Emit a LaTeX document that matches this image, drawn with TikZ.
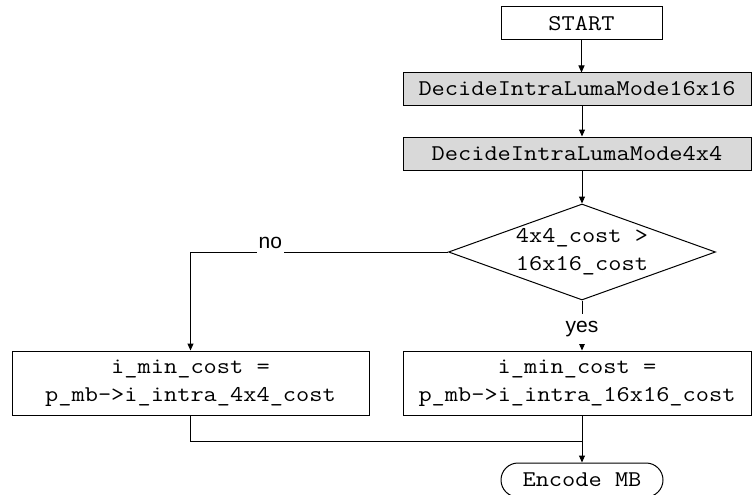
\documentclass[tikz,border=0pt]{standalone}
\usepackage{fontspec}
\newfontfamily\codefont{Latin Modern Mono}[FakeStretch=1.14]
\newfontfamily\labelfont{Liberation Sans}
\usetikzlibrary{arrows.meta,shapes.geometric}
\begin{document}
\begin{tikzpicture}[x=1pt,y=-1pt,
  every node/.style={inner sep=0pt},
  code/.style={font=\codefont\fontsize{22.5}{28}\selectfont},
  procbox/.style={code, draw, line width=1pt, align=center},
  callbox/.style={procbox, fill=black!15},
  decision/.style={draw, line width=1pt, diamond},
  terminal/.style={procbox, rounded corners=17pt},
  lbl/.style={font=\labelfont\fontsize{21}{25}\selectfont, fill=white,
              inner xsep=1.5pt, inner ysep=7pt},
  flow/.style={line width=1pt, -{Triangle[length=7pt,width=6pt]}},
  link/.style={line width=1pt}]
\useasboundingbox (0,0) rectangle (752,495);

% process chain
\node[procbox, minimum width=161pt, minimum height=33pt] (start) at (581.5,23.5) {START};
\node[callbox, minimum width=348pt, minimum height=32pt] (b16) at (577,89) {DecideIntraLumaMode16x16};
\node[callbox, minimum width=348pt, minimum height=33pt] (b4) at (577,153.5) {DecideIntraLumaMode4x4};

% cost comparison
\node[decision, minimum width=267pt, minimum height=96pt] (dec) at (582,252) {};
\node[code, align=center] (dectext) at (dec) {4x4\_cost >\\16x16\_cost};

% assignments
\node[procbox, minimum width=357pt, minimum height=64pt] (lbox) at (190.5,383)
  {i\_min\_cost =\\p\_mb->i\_intra\_4x4\_cost};
\node[procbox, minimum width=348pt, minimum height=64pt] (rbox) at (577,383)
  {i\_min\_cost =\\p\_mb->i\_intra\_16x16\_cost};

\node[terminal, minimum width=162pt, minimum height=34pt] (stop) at (582,480) {Encode MB};

\coordinate (join) at (582,441);

% connectors
\draw[flow] (start.south) -- (start.south |- b16.north);
\draw[flow] (dec.north |- b16.south) -- (dec.north |- b4.north);
\draw[flow] (dec.north |- b4.south) -- (dec.north);
\draw[flow] (dec.west) -- node[lbl, pos=0.69, anchor=base, yshift=4pt] {no}
  (lbox.north |- dec.west) -- (lbox.north);
\draw[flow] (dec.south) -- node[lbl, pos=0.64, anchor=base] {yes} (dec.south |- rbox.north);
\draw[link] (lbox.south) |- (join);
\draw[flow] (dec.south |- rbox.south) -- (stop.north);
\end{tikzpicture}
\end{document}
